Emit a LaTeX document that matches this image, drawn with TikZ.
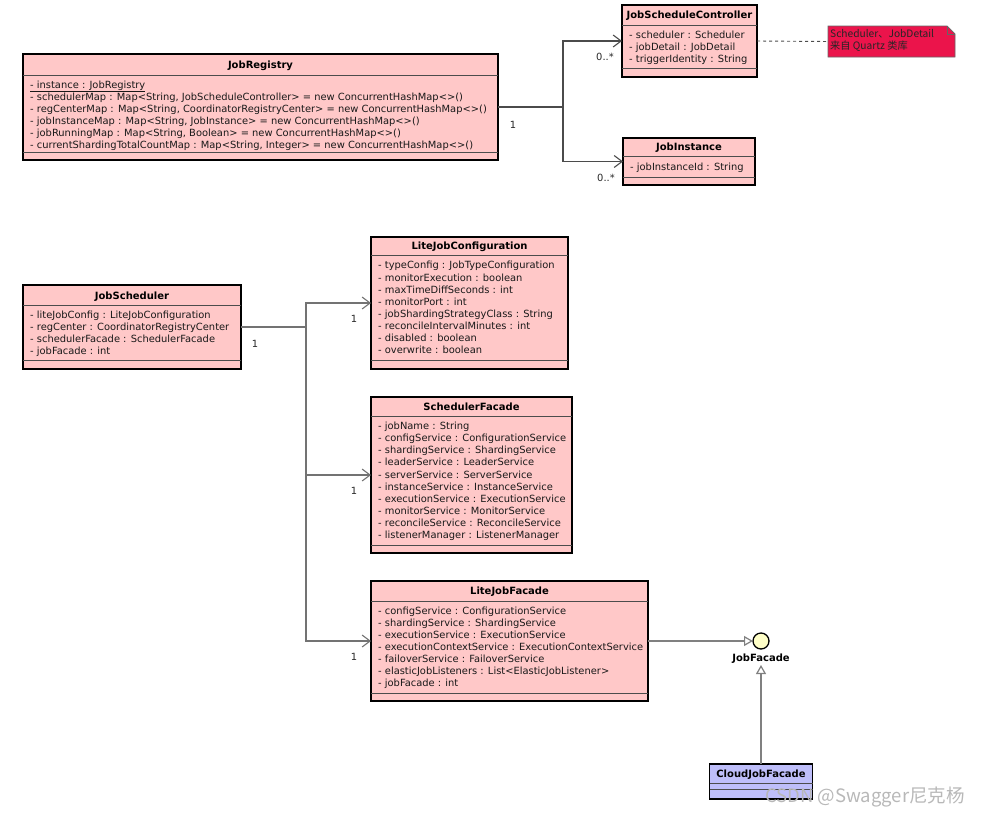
\documentclass[tikz,border=0pt]{standalone}
\usepackage{fontspec}
\setmainfont{DejaVu Sans}
\newfontfamily\cjkfont{Noto Sans CJK SC}
\usetikzlibrary{arrows.meta}
\definecolor{classfill}{RGB}{255,200,200}
\definecolor{ifacefill}{RGB}{255,255,200}
\definecolor{cloudfill}{RGB}{190,190,250}
\definecolor{notefill}{RGB}{235,20,75}
\definecolor{connA}{RGB}{75,75,75}
\definecolor{connB}{RGB}{115,115,115}
\newcommand\classattr[4]{\node[attr] (#1) at (#2,#3) {#4};}
\begin{document}
\begin{tikzpicture}[x=1pt,y=-1pt,
  classbox/.style={draw=black, line width=1.6pt, fill=classfill, anchor=north west, inner sep=0pt, outer sep=0pt},
  sepline/.style={draw=black!70, line width=0.9pt},
  ctitle/.style={font=\fontsize{10}{12}\selectfont\bfseries, anchor=base, yshift=-3.6pt, inner sep=0pt},
  attr/.style={font=\fontsize{9.9}{12}\selectfont, anchor=base west, yshift=-3.6pt, inner sep=0pt, text=black!90},
  mult/.style={font=\fontsize{9.9}{12}\selectfont, inner sep=0pt, text=black!85},
  plainA/.style={draw=connA, line width=1.1pt},
  plainB/.style={draw=connB, line width=1.1pt},
  assocA/.style={plainA, -{Straight Barb[length=8pt,width=12pt,line width=1.1pt]}},
  assocB/.style={plainB, -{Straight Barb[length=8pt,width=12pt,line width=1.1pt]}},
  realize/.style={draw=black!50, line width=1.8pt, -{Triangle[open,fill=white,length=9pt,width=10pt,line width=1.2pt]}},
  notetext/.style={font=\cjkfont\fontsize{10.2}{12}\selectfont, anchor=base west, inner sep=0pt, text=black!85}
]
\useasboundingbox (0,0) rectangle (982,817);

% ---------- JobRegistry ----------
\node[classbox, minimum width=475pt, minimum height=106pt] (reg) at (23,54) {};
\node[ctitle] (regT) at (260.5,64.5) {JobRegistry};
\draw[sepline] (23,75) -- (498,75);
\draw[sepline] (23,152.5) -- (498,152.5);
\classattr{reg1}{30}{84.5}{\underline{- instance : JobRegistry}}
\classattr{reg2}{30}{96.6}{- schedulerMap : Map<String, JobScheduleController> = new ConcurrentHashMap<>()}
\classattr{reg3}{30}{108.7}{- regCenterMap : Map<String, CoordinatorRegistryCenter> = new ConcurrentHashMap<>()}
\classattr{reg4}{30}{120.8}{- jobInstanceMap : Map<String, JobInstance> = new ConcurrentHashMap<>()}
\classattr{reg5}{30}{132.9}{- jobRunningMap : Map<String, Boolean> = new ConcurrentHashMap<>()}
\classattr{reg6}{30}{145}{- currentShardingTotalCountMap : Map<String, Integer> = new ConcurrentHashMap<>()}

% ---------- JobScheduleController ----------
\node[classbox, minimum width=135pt, minimum height=72pt] (jsc) at (622,5) {};
\node[ctitle] (jscT) at (689.5,15) {JobScheduleController};
\draw[sepline] (622,25) -- (757,25);
\draw[sepline] (622,68.5) -- (757,68.5);
\classattr{jsc1}{629}{34.5}{- scheduler : Scheduler}
\classattr{jsc2}{629}{46.6}{- jobDetail : JobDetail}
\classattr{jsc3}{629}{58.7}{- triggerIdentity : String}

% ---------- Note ----------
\node[inner sep=0pt, outer sep=0pt, minimum width=127pt, minimum height=31pt, anchor=north west] (note) at (828,26) {};
\draw[fill=notefill, draw=black!60, line width=0.7pt]
  (note.north west) -- ([xshift=-8pt]note.north east) -- ([yshift=-8pt]note.north east) -- (note.south east) -- (note.south west) -- cycle;
\draw[draw=black!60, line width=0.7pt] ([xshift=-8pt]note.north east) -- ([xshift=-8pt,yshift=-8pt]note.north east) -- ([yshift=-8pt]note.north east);
\node[notetext] (note1) at (830,37.5) {Scheduler、JobDetail};
\node[notetext] (note2) at (830,49.5) {来自 Quartz 类库};
\draw[dashed, draw=black!70, line width=0.9pt] (jsc.east) -- (note.west);

% ---------- JobInstance ----------
\node[classbox, minimum width=132pt, minimum height=47pt] (jinst) at (623,138) {};
\node[ctitle] (jinstT) at (689,147) {JobInstance};
\draw[sepline] (623,156) -- (755,156);
\draw[sepline] (623,177) -- (755,177);
\classattr{jinst1}{630}{166.5}{- jobInstanceId : String}

% ---------- associations from JobRegistry ----------
\draw[plainA] (reg.east) -- ++(65,0) coordinate (j1);
\draw[assocA] (j1) |- (jsc.west);
\draw[assocA] (j1) |- (jinst.west);
\node[mult] (m1) at (513,125) {1};
\node[mult] (m2) at (605,57) {0..*};
\node[mult] (m3) at (606,178) {0..*};

% ---------- JobScheduler ----------
\node[classbox, minimum width=218pt, minimum height=84pt] (js) at (23,285) {};
\node[ctitle] (jsT) at (132,295.5) {JobScheduler};
\draw[sepline] (23,305) -- (241,305);
\draw[sepline] (23,360) -- (241,360);
\classattr{js1}{30}{314.5}{- liteJobConfig : LiteJobConfiguration}
\classattr{js2}{30}{326.6}{- regCenter : CoordinatorRegistryCenter}
\classattr{js3}{30}{338.7}{- schedulerFacade : SchedulerFacade}
\classattr{js4}{30}{350.8}{- jobFacade : int}

% ---------- LiteJobConfiguration ----------
\node[classbox, minimum width=197pt, minimum height=132pt] (ljc) at (371,237) {};
\node[ctitle] (ljcT) at (469.5,245.5) {LiteJobConfiguration};
\draw[sepline] (371,255.5) -- (568,255.5);
\draw[sepline] (371,360.5) -- (568,360.5);
\classattr{ljc1}{378}{265.3}{- typeConfig : JobTypeConfiguration}
\classattr{ljc2}{378}{277.4}{- monitorExecution : boolean}
\classattr{ljc3}{378}{289.5}{- maxTimeDiffSeconds : int}
\classattr{ljc4}{378}{301.6}{- monitorPort : int}
\classattr{ljc5}{378}{313.7}{- jobShardingStrategyClass : String}
\classattr{ljc6}{378}{325.8}{- reconcileIntervalMinutes : int}
\classattr{ljc7}{378}{337.9}{- disabled : boolean}
\classattr{ljc8}{378}{350}{- overwrite : boolean}

% ---------- SchedulerFacade ----------
\node[classbox, minimum width=201pt, minimum height=156pt] (sf) at (371,397) {};
\node[ctitle] (sfT) at (471.5,407) {SchedulerFacade};
\draw[sepline] (371,416.5) -- (572,416.5);
\draw[sepline] (371,545) -- (572,545);
\classattr{sf1}{378}{426}{- jobName : String}
\classattr{sf2}{378}{438.1}{- configService : ConfigurationService}
\classattr{sf3}{378}{450.2}{- shardingService : ShardingService}
\classattr{sf4}{378}{462.3}{- leaderService : LeaderService}
\classattr{sf5}{378}{474.4}{- serverService : ServerService}
\classattr{sf6}{378}{486.5}{- instanceService : InstanceService}
\classattr{sf7}{378}{498.6}{- executionService : ExecutionService}
\classattr{sf8}{378}{510.7}{- monitorService : MonitorService}
\classattr{sf9}{378}{522.8}{- reconcileService : ReconcileService}
\classattr{sf10}{378}{534.9}{- listenerManager : ListenerManager}

% ---------- LiteJobFacade ----------
\node[classbox, minimum width=277pt, minimum height=120pt] (ljf) at (371,581) {};
\node[ctitle] (ljfT) at (509.5,591) {LiteJobFacade};
\draw[sepline] (371,601) -- (648,601);
\draw[sepline] (371,693) -- (648,693);
\classattr{ljf1}{378}{610.5}{- configService : ConfigurationService}
\classattr{ljf2}{378}{622.6}{- shardingService : ShardingService}
\classattr{ljf3}{378}{634.7}{- executionService : ExecutionService}
\classattr{ljf4}{378}{646.8}{- executionContextService : ExecutionContextService}
\classattr{ljf5}{378}{658.9}{- failoverService : FailoverService}
\classattr{ljf6}{378}{671}{- elasticJobListeners : List<ElasticJobListener>}
\classattr{ljf7}{378}{683.1}{- jobFacade : int}

% ---------- associations from JobScheduler ----------
\draw[plainB] (js.east) -- ++(65,0) coordinate (j2);
\draw[assocB] (j2) |- (ljc.west);
\draw[assocB] (j2) |- (sf.west);
\draw[assocB] (j2) |- (ljf.west);
\node[mult] (m4) at (255,344) {1};
\node[mult] (m5) at (354,319) {1};
\node[mult] (m6) at (354,491) {1};
\node[mult] (m7) at (354,657) {1};

% ---------- JobFacade interface ----------
\node[circle, draw=black, line width=1.3pt, fill=ifacefill, minimum size=16pt, inner sep=0pt, outer sep=0pt] (iface) at (761,641) {};
\node[ctitle] (ifaceT) at (761,657.5) {JobFacade};
\coordinate (ifacebot) at (761,665);
\draw[realize] (ljf.east) -- (iface.west);

% ---------- CloudJobFacade ----------
\node[classbox, fill=cloudfill, minimum width=103pt, minimum height=35pt] (cloud) at (709.5,764) {};
\node[ctitle] (cloudT) at (761,774) {CloudJobFacade};
\draw[sepline] (709.5,783.5) -- (812.5,783.5);
\draw[sepline] (709.5,789.5) -- (812.5,789.5);
\draw[realize] (cloud.north) -- (ifacebot);

% ---------- watermark ----------
\node[font=\cjkfont\fontsize{18.5}{22}\selectfont, text=black!28, inner sep=0pt] (wm) at (865,797) {CSDN @Swagger尼克杨};
\end{tikzpicture}
\end{document}
